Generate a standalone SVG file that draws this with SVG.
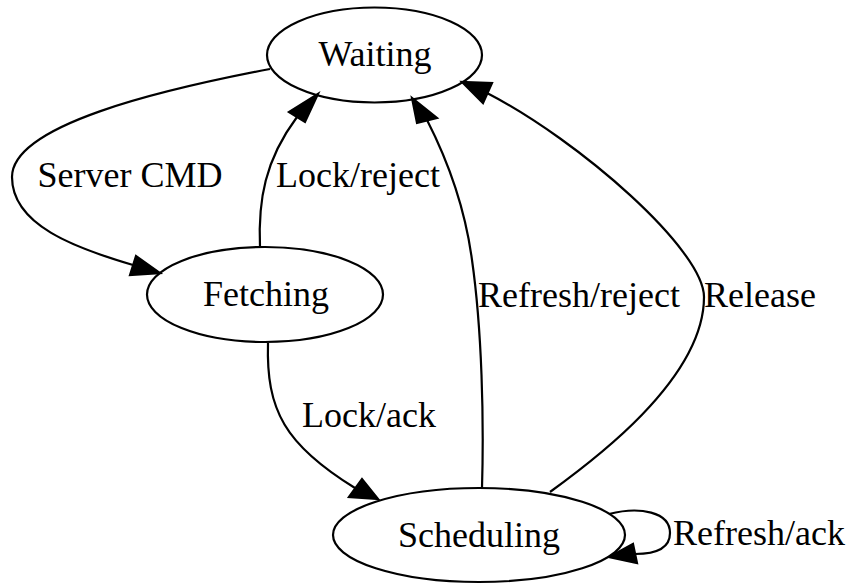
<svg xmlns="http://www.w3.org/2000/svg" width="851" height="584" viewBox="0 0 851 584">
<style>
.node ellipse{fill:none;stroke:#000;stroke-width:2.2}
text{font-family:'Liberation Serif','Times New Roman',Times,serif;font-size:36px;fill:#000;text-anchor:middle}
.edge path{fill:none;stroke:#000;stroke-width:2.2}
.edge polygon{fill:#000;stroke:#000;stroke-width:2.2}
</style>
<rect width="851" height="584" fill="#fff"/>
<g font-family="Liberation Serif, Times New Roman, serif">
<g id="edges">
<g class="edge" id="e_wait_fetch">
<path d="M270,69 C160,90 12,125 12,177 C12,225 75,248 133,265"/>
<polygon points="130,275 136,256 160,273"/>
<text x="130" y="187">Server CMD</text>
</g>
<g class="edge" id="e_fetch_wait">
<path d="M260,247 C258,200 265,160 297,117"/>
<polygon points="289,112 305,122 318,94"/>
<text x="358" y="187">Lock/reject</text>
</g>
<g class="edge" id="e_fetch_sched">
<path d="M268,343 C266,410 285,445 355,488"/>
<polygon points="349,497 362,479 378,499"/>
<text x="369" y="427">Lock/ack</text>
</g>
<g class="edge" id="e_sched_wait_reject">
<path d="M482,488 C484,420 482,330 472,260 C466,215 450,165 427,120"/>
<polygon points="417,123 437,118 412,98"/>
<text x="579" y="307">Refresh/reject</text>
</g>
<g class="edge" id="e_sched_wait_release">
<path d="M550,492 C590,463 704,380 704,297 C704,250 580,141 487,93"/>
<polygon points="492,83 483,103 462,82"/>
<text x="760" y="307">Release</text>
</g>
<g class="edge" id="e_sched_self">
<path d="M609,514 C640,506 670,512 670,533 C670,548 656,554 635,554"/>
<polygon points="633,544 637,563 609,557"/>
<text x="759" y="545">Refresh/ack</text>
</g>
</g>
<g class="node" id="Waiting">
<ellipse cx="374.5" cy="55" rx="107.5" ry="47.5"/>
<text x="375" y="65.5">Waiting</text>
</g>
<g class="node" id="Fetching">
<ellipse cx="265" cy="294.5" rx="118" ry="47.5"/>
<text x="266" y="305.5">Fetching</text>
</g>
<g class="node" id="Scheduling">
<ellipse cx="479" cy="535" rx="146" ry="47"/>
<text x="479" y="546.5">Scheduling</text>
</g>
</g>
</svg>
